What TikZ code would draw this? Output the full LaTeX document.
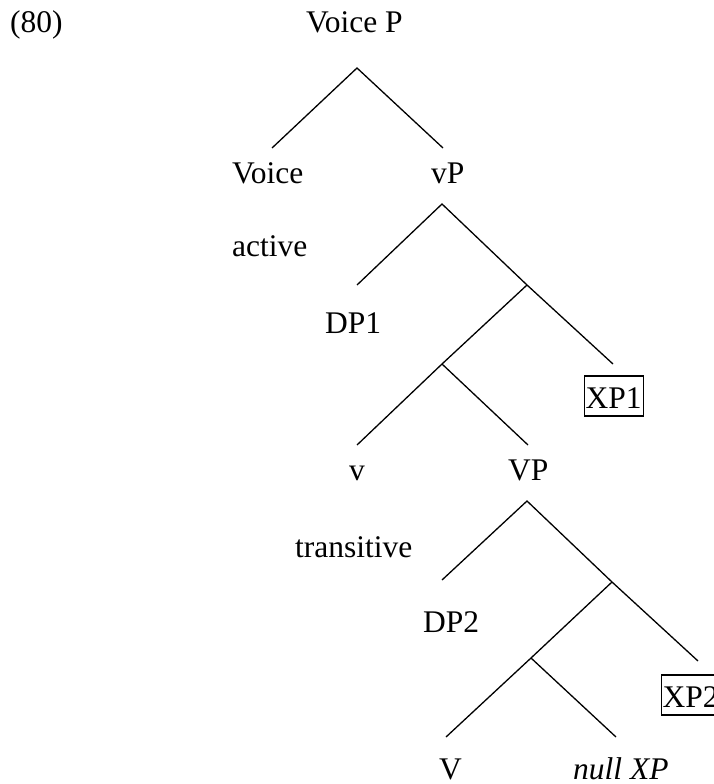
\documentclass[tikz,border=0pt]{standalone}
\usepackage{fontspec}
\setmainfont{Liberation Serif}
\begin{document}
\begin{tikzpicture}[x=1pt,y=-1pt,
  lbl/.style={anchor=base west,inner sep=0pt,font=\fontsize{31.5}{37}\selectfont},
  boxed/.style={lbl,draw,line width=1.1pt,inner xsep=1.5pt,text height=32pt,text depth=8pt},
  branch/.style={line width=1.3pt}]
\useasboundingbox (0,0) rectangle (714,784);

% labels
\node[lbl] (ex)     at (10,33)   {(80)};
\node[lbl] (voicep) at (306,33)  {Voice P};
\node[lbl] (voice)  at (232,183) {Voice};
\node[lbl] (vp)     at (431,183) {vP};
\node[lbl] (active) at (232,256) {active};
\node[lbl] (dp1)    at (325,333) {DP1};
\node[boxed] (xp1)  at (583.5,408) {XP1};
\node[lbl] (v)      at (349,480) {v};
\node[lbl] (VP)     at (508,480) {VP};
\node[lbl] (trans)  at (295,557) {transitive};
\node[lbl] (dp2)    at (423,632) {DP2};
\node[boxed] (xp2)  at (660.5,707) {XP2};
\node[lbl] (V)      at (439,779) {V};
\node[lbl] (null)   at (573,779) {\itshape null XP};

% branch points and ends
\coordinate (a0) at (357,68);
\coordinate (a1) at (272,148);
\coordinate (a2) at (443,148);
\coordinate (b0) at (442,204);
\coordinate (b1) at (357,285);
\coordinate (b2) at (527,285);
\coordinate (b3) at (613,364);
\coordinate (b4) at (442,364);
\coordinate (b5) at (357,445);
\coordinate (b6) at (528,445);
\coordinate (c0) at (527,501);
\coordinate (c1) at (442,580);
\coordinate (c2) at (612,582);
\coordinate (c3) at (698,661);
\coordinate (c4) at (531,658);
\coordinate (c5) at (446,737);
\coordinate (c6) at (616,737);

% branches
\draw[branch] (a1) -- (a0) -- (a2);
\draw[branch] (b1) -- (b0) -- (b2) -- (b3);
\draw[branch] (b2) -- (b4) -- (b5);
\draw[branch] (b4) -- (b6);
\draw[branch] (c1) -- (c0) -- (c2) -- (c3);
\draw[branch] (c2) -- (c4) -- (c5);
\draw[branch] (c4) -- (c6);
\end{tikzpicture}
\end{document}
